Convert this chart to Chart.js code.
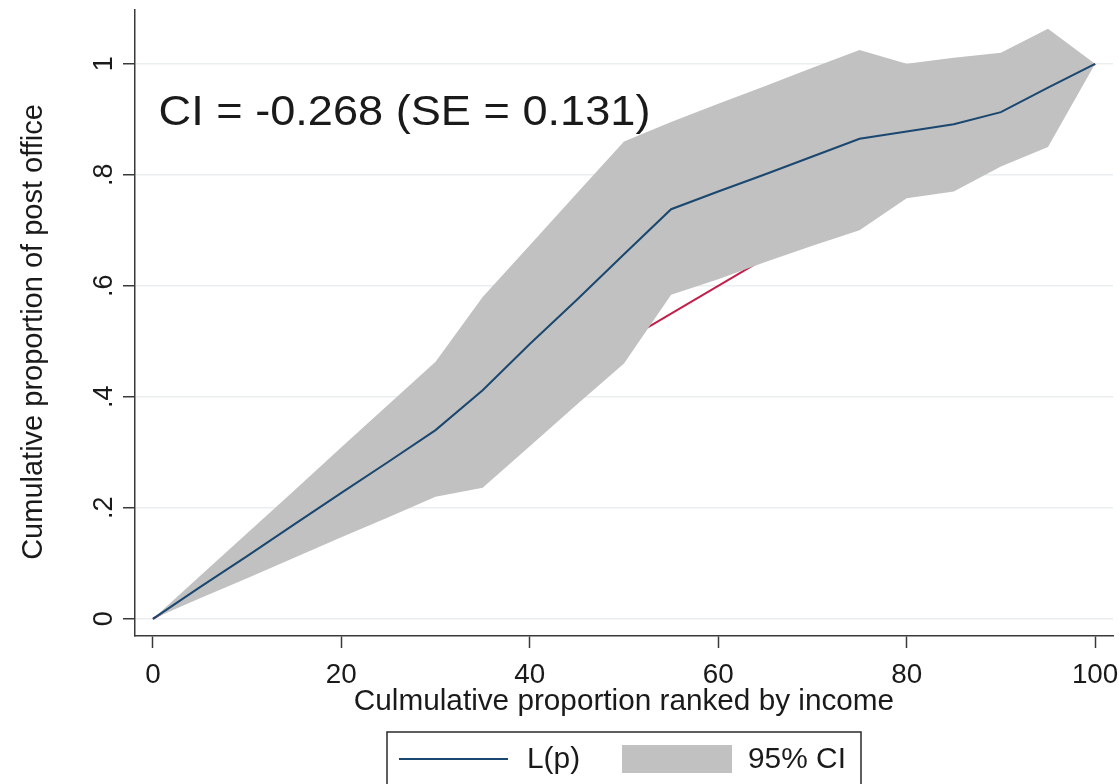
<!DOCTYPE html>
<html>
<head>
<meta charset="utf-8">
<script src="https://cdn.jsdelivr.net/npm/chart.js@4.4.1/dist/chart.umd.min.js"></script>
<style>
  html, body { margin: 0; padding: 0; background: #ffffff; }
  canvas { display: block; }
</style>
</head>
<body>
<canvas id="curve" width="1119" height="784"></canvas>
<script>
// Cumulative share of the population, ranked by income (%)
const rankPct = [0, 5, 10, 15, 20, 25, 30, 35, 40, 45, 50, 55, 60, 65, 70, 75, 80, 85, 90, 95, 100];
// Concentration curve L(p) for post office use
const lp      = [0, 0.057, 0.113, 0.170, 0.227, 0.283, 0.340, 0.412, 0.495, 0.575, 0.657,
                 0.738, 0.770, 0.801, 0.833, 0.865, 0.878, 0.891, 0.913, 0.957, 1.000];
// 95% confidence band around L(p)
const ciLower = [0, 0.037, 0.073, 0.110, 0.147, 0.183, 0.220, 0.236, 0.311, 0.386, 0.460,
                 0.584, 0.612, 0.643, 0.672, 0.700, 0.758, 0.770, 0.815, 0.850, 1.000];
const ciUpper = [0, 0.077, 0.154, 0.231, 0.309, 0.386, 0.463, 0.580, 0.673, 0.767, 0.860,
                 0.895, 0.928, 0.960, 0.993, 1.025, 1.000, 1.011, 1.020, 1.063, 1.000];
// Line of equality
const equalityX = [0, 100];
const equalityY = [0, 1];

const xTickValues = [0, 20, 40, 60, 80, 100];
const xTickLabels = ['0', '20', '40', '60', '80', '100'];
const yTickValues = [0, 0.2, 0.4, 0.6, 0.8, 1];
const yTickLabels = ['0', '.2', '.4', '.6', '.8', '1'];
const seriesLabels = ['L(p)', '95% CI'];
const xTitle = 'Culmulative proportion ranked by income';
const yTitle = 'Cumulative proportion of post office';
const ciNote = 'CI = -0.268 (SE = 0.131)';

const FONT = '"Liberation Sans", Arial, Helvetica, sans-serif';
const INK = '#1a1a1a';
const AXIS = '#3a3a3a';
const NAVY = '#1a476f';
const BAND = '#c1c1c1';
const RED = '#c41e4a';

const toPoints = (xs, ys) => xs.map((x, i) => ({ x: x, y: ys[i] }));

// Text drawn slightly wider than its height, as in the exported figure
function wideText(ctx, text, x, y, stretch) {
  ctx.save();
  ctx.translate(x, y);
  ctx.scale(stretch, 1);
  ctx.fillText(text, 0, 0);
  ctx.restore();
}

// Tick labels, axis titles, the index annotation and the boxed legend
const decorations = {
  id: 'decorations',
  afterDraw(chart) {
    const ctx = chart.ctx;
    const xs = chart.scales.x, ys = chart.scales.y;
    const area = chart.chartArea;
    ctx.save();
    ctx.fillStyle = INK;
    ctx.textBaseline = 'alphabetic';

    // x tick labels
    ctx.font = '27px ' + FONT;
    ctx.textAlign = 'center';
    xTickValues.forEach((v, i) => {
      wideText(ctx, xTickLabels[i], xs.getPixelForValue(v), area.bottom + 47, 1.03);
    });

    // y tick labels, reading bottom to top
    yTickValues.forEach((v, i) => {
      ctx.save();
      ctx.translate(area.left - 23, ys.getPixelForValue(v));
      ctx.rotate(-Math.PI / 2);
      ctx.fillText(yTickLabels[i], 0, 0);
      ctx.restore();
    });

    // y axis title
    ctx.font = '29px ' + FONT;
    ctx.save();
    ctx.translate(42, (area.top + area.bottom) / 2 + 9);
    ctx.rotate(-Math.PI / 2);
    ctx.fillText(yTitle, 0, 0);
    ctx.restore();

    // x axis title
    const cx = (area.left + area.right) / 2;
    wideText(ctx, xTitle, cx, 710, 1.025);

    // concentration index annotation
    ctx.font = '43px ' + FONT;
    ctx.textAlign = 'left';
    wideText(ctx, ciNote, xs.getPixelForValue(0.6), ys.getPixelForValue(0.89), 1.05);

    // legend box
    ctx.strokeStyle = '#2a2a2a';
    ctx.lineWidth = 1.5;
    ctx.strokeRect(cx - 237, 732, 474, 80);
    ctx.strokeStyle = NAVY;
    ctx.lineWidth = 2;
    ctx.beginPath();
    ctx.moveTo(cx - 225, 759);
    ctx.lineTo(cx - 116, 759);
    ctx.stroke();
    ctx.fillStyle = BAND;
    ctx.fillRect(cx - 2, 745, 110, 28);
    ctx.fillStyle = INK;
    ctx.font = '29px ' + FONT;
    ctx.textBaseline = 'middle';
    wideText(ctx, seriesLabels[0], cx - 97, 760, 1.03);
    wideText(ctx, seriesLabels[1], cx + 124, 760, 1.03);
    ctx.restore();
  }
};

new Chart(document.getElementById('curve'), {
  type: 'line',
  data: {
    datasets: [
      {
        label: seriesLabels[0],
        data: toPoints(rankPct, lp),
        borderColor: NAVY,
        borderWidth: 2,
        pointRadius: 0,
        tension: 0,
        fill: false,
        order: 0
      },
      {
        label: seriesLabels[1],
        data: toPoints(rankPct, ciUpper),
        borderColor: 'rgba(0,0,0,0)',
        borderWidth: 0,
        backgroundColor: BAND,
        pointRadius: 0,
        tension: 0,
        fill: '+1',
        order: 1
      },
      {
        label: 'lower',
        data: toPoints(rankPct, ciLower),
        borderColor: 'rgba(0,0,0,0)',
        borderWidth: 0,
        pointRadius: 0,
        tension: 0,
        fill: false,
        order: 2
      },
      {
        label: 'equality',
        data: toPoints(equalityX, equalityY),
        borderColor: RED,
        borderWidth: 2,
        pointRadius: 0,
        tension: 0,
        fill: false,
        order: 3
      }
    ]
  },
  options: {
    responsive: false,
    animation: false,
    events: [],
    layout: { padding: { left: 0, top: 10, right: 6, bottom: 0 } },
    plugins: {
      legend: { display: false },
      tooltip: { enabled: false }
    },
    scales: {
      x: {
        type: 'linear',
        min: -1.9,
        max: 101.9,
        afterBuildTicks: s => { s.ticks = xTickValues.map(v => ({ value: v })); },
        afterFit: s => { s.height = 148; },
        ticks: { display: false },
        grid: {
          drawOnChartArea: false,
          drawTicks: true,
          tickLength: 12,
          tickColor: AXIS,
          tickWidth: 1.5
        },
        border: { display: true, color: AXIS, width: 1.5 }
      },
      y: {
        type: 'linear',
        min: -0.031,
        max: 1.097,
        afterBuildTicks: s => { s.ticks = yTickValues.map(v => ({ value: v })); },
        afterFit: s => { s.width = 135; },
        ticks: { display: false },
        grid: {
          color: '#e9eef1',
          lineWidth: 1.5,
          drawTicks: true,
          tickLength: 12,
          tickColor: AXIS,
          tickWidth: 1.5
        },
        border: { display: true, color: AXIS, width: 1.5 }
      }
    }
  },
  plugins: [decorations]
});
</script>
</body>
</html>
